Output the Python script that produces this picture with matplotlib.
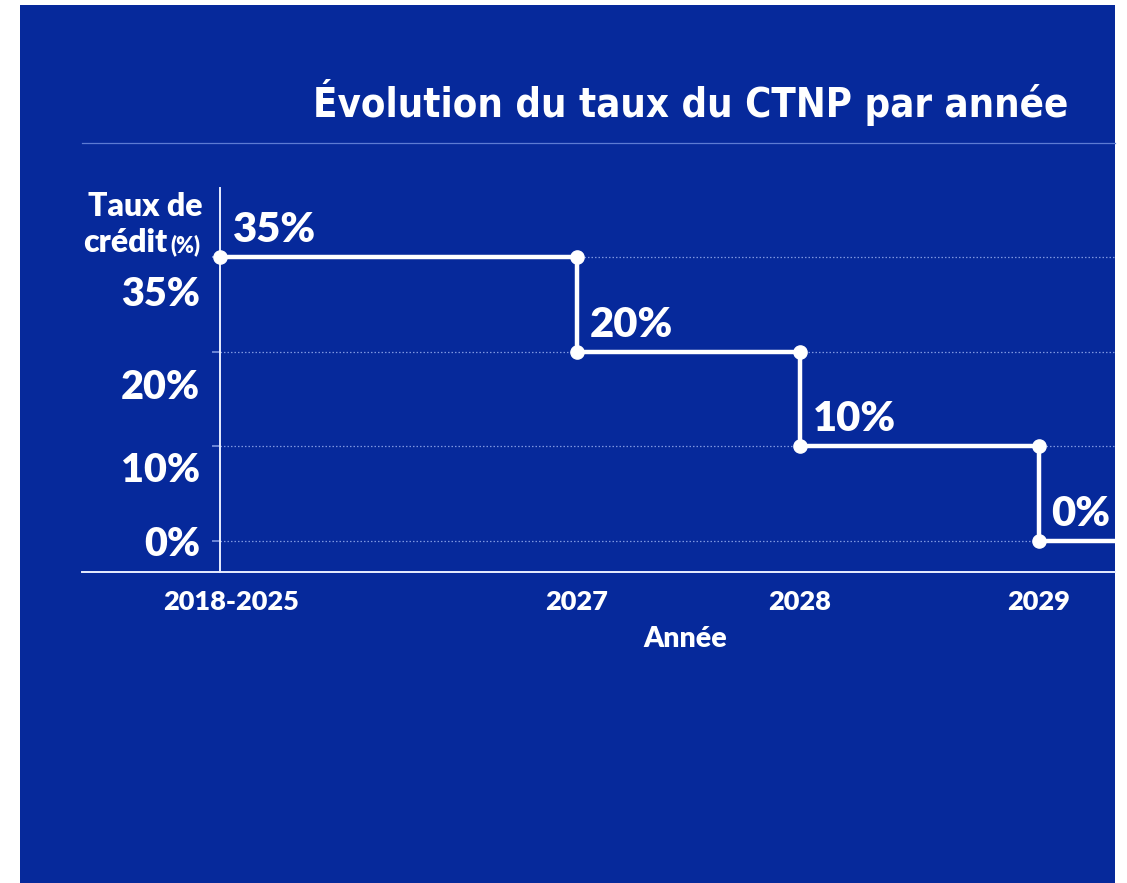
import matplotlib
matplotlib.use("Agg")
import matplotlib.pyplot as plt
import matplotlib.transforms as mtransforms
from matplotlib import font_manager as fm
from matplotlib.lines import Line2D
from matplotlib.patches import Rectangle

# data
years = ["2018-2025", "2027", "2028", "2029"]
rates = [35, 20, 10, 0]
rate_labels = ["35%", "20%", "10%", "0%"]
title = "Évolution du taux du CTNP par année"

# layout (category spacing along x is not regular in the original)
x_pos = [0, 1.6, 2.6, 3.67]
xlim = (-0.62, 4.013)
ylim = (-0.327, 3.729)
ylab_shift = [0.40, 0.38, 0.25, 0.04]

W, H = 1127, 883
BLUE = "#06299b"
GRID = "#7d96e0"
LINE = "#e8edff"
FONT = ["Lato", "DejaVu Sans"]
HEAVY = "heavy"

plt.rcParams["font.family"] = FONT

# condensed face for the title if there is one
cond = fm.FontProperties(family="DejaVu Sans", stretch="condensed", weight="bold")
if "Condensed" in fm.findfont(cond):
    title_fp = cond
else:
    title_fp = fm.FontProperties(family="Lato", weight="bold")


def fx(x):
    return x / W


def fy(y):
    return 1 - y / H


fig = plt.figure(figsize=(W / 100, H / 100), dpi=100)
fig.patch.set_facecolor("white")
fig.patches.append(
    Rectangle((fx(20), 0), fx(1115) - fx(20), fy(5), transform=fig.transFigure,
              facecolor=BLUE, edgecolor="none", zorder=-10)
)

ax = fig.add_axes([fx(82), fy(572), fx(1115) - fx(82), fy(188) - fy(572)])
ax.set_facecolor("none")
ax.set_xlim(*xlim)
ax.set_ylim(*ylim)

# equal spacing between the rate levels
levels = [sorted(rates).index(r) for r in rates]

# dotted guide lines + small ticks on the left
for lv in levels:
    ax.hlines(lv, 0, xlim[1], colors=GRID, linestyles=(0, (1.2, 1.6)), lw=0.9, zorder=1)
    ax.hlines(lv, -0.035, 0, colors=GRID, lw=1.2, zorder=1)

# step line
ax.plot(x_pos + [xlim[1]], levels + [levels[-1]], drawstyle="steps-post",
        color="white", lw=3.2, zorder=3, solid_capstyle="butt")

cx, cy = [], []
for i in range(len(x_pos)):
    cx.append(x_pos[i])
    cy.append(levels[i])
    if i + 1 < len(x_pos):
        cx.append(x_pos[i + 1])
        cy.append(levels[i])
ax.plot(cx, cy, "o", color="white", ms=9.5, zorder=4)

# value labels next to each step
lab_tr = mtransforms.offset_copy(ax.transData, fig=fig, x=13, y=27, units="dots")
for x, lv, lab in zip(x_pos, levels, rate_labels):
    ax.text(x, lv, lab, transform=lab_tr, color="white", fontsize=30,
            fontweight=HEAVY, ha="left", va="center", clip_on=True, zorder=5)

# y labels (shifted below their guide lines as in the original)
for lv, lab, sh in zip(levels, rate_labels, ylab_shift):
    ax.text(-0.09, lv - sh, lab, color="white", fontsize=28.5, fontweight=HEAVY,
            ha="right", va="center", clip_on=False)

ax.set_yticks([])
ax.set_xticks(x_pos)
ax.set_xticklabels(years, color="white", fontsize=19.5, fontweight=HEAVY)
ax.tick_params(axis="x", length=0, pad=13)
first = ax.get_xticklabels()[0]
first.set_transform(first.get_transform()
                    + mtransforms.ScaledTranslation(0.11, 0, fig.dpi_scale_trans))

for s in ["top", "right"]:
    ax.spines[s].set_visible(False)
ax.spines["left"].set_position(("data", 0))
ax.spines["left"].set_color(LINE)
ax.spines["left"].set_linewidth(1.4)
ax.spines["bottom"].set_color(LINE)
ax.spines["bottom"].set_linewidth(1.4)

# axis titles
fig.text(fx(685), fy(639), "Année", color="white", fontsize=20.5, fontweight=HEAVY,
         ha="center", va="center")
fig.text(fx(202), fy(216), "Taux de", color="white", fontsize=23, fontweight=HEAVY,
         ha="right", va="baseline")
fig.text(fx(167), fy(252), "crédit", color="white", fontsize=23, fontweight=HEAVY,
         ha="right", va="baseline")
fig.text(fx(170), fy(252), "(%)", color="white", fontsize=15.5, fontweight=HEAVY,
         ha="left", va="baseline")

# title, fitted close to the width it has in the original, and separator
t = fig.text(fx(691), fy(117), title, color="white", fontproperties=title_fp,
             ha="center", va="baseline")
t.set_fontsize(36)
r = fig.canvas.get_renderer()
w = t.get_window_extent(renderer=r).width
t.set_fontsize(min(36, 36 * 755 / w))
fig.add_artist(Line2D([fx(82), fx(1115)], [fy(143), fy(143)], transform=fig.transFigure,
                      color="#5d7bd3", lw=0.9))

fig.savefig("out.png", dpi=100, facecolor="white")
